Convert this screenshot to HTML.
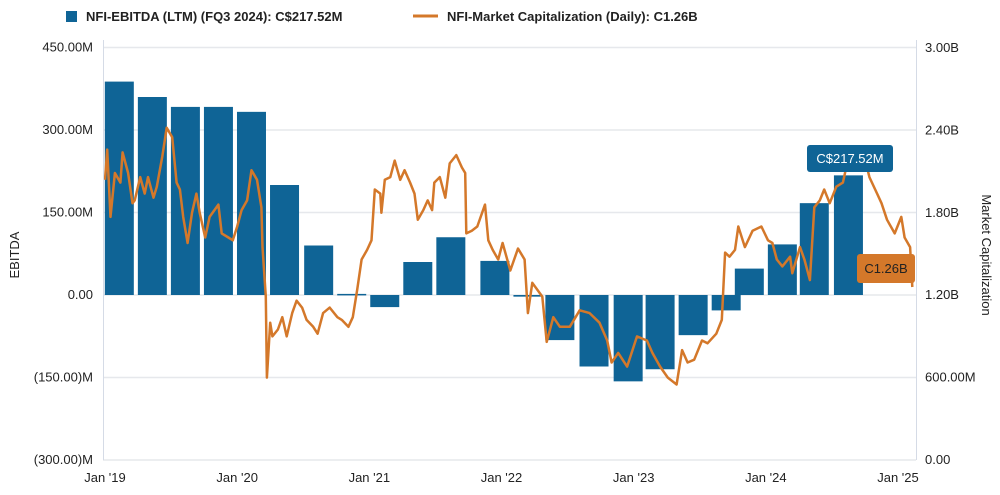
<!DOCTYPE html>
<html><head><meta charset="utf-8">
<style>
body{margin:0;background:#fff;font-family:"Liberation Sans",Arial,sans-serif;}
svg text{font-family:"Liberation Sans",Arial,sans-serif;}
</style></head>
<body>
<svg id="chart" width="1000" height="490" xmlns="http://www.w3.org/2000/svg">
<g>
<rect x="66" y="11" width="11" height="11" fill="#0f6496"/>
<text x="86" y="21" font-size="13" font-weight="bold" fill="#222">NFI-EBITDA (LTM) (FQ3 2024): C$217.52M</text>
<line x1="413" y1="16" x2="438" y2="16" stroke="#d4782a" stroke-width="3"/>
<text x="447" y="21" font-size="13" font-weight="bold" fill="#222">NFI-Market Capitalization (Daily): C1.26B</text>
</g>
<g id="grid"></g>
<g id="bars"></g>
<path id="line" fill="none" stroke="#d4782a" stroke-width="2.5" stroke-linejoin="round"/>
<line x1="103.5" y1="40" x2="103.5" y2="460" stroke="#d5dbe6"/>
<line x1="916.5" y1="40" x2="916.5" y2="460" stroke="#d5dbe6"/>
<g id="yl"></g>
<g id="yr"></g>
<g id="xl"></g>
<text transform="translate(19,255) rotate(-90)" text-anchor="middle" font-size="13" fill="#222">EBITDA</text>
<text transform="translate(982,255) rotate(90)" text-anchor="middle" font-size="13" fill="#222">Market Capitalization</text>
<g>
<rect x="807" y="145" width="86" height="27" rx="3" fill="#0f6496"/>
<text x="850" y="163" text-anchor="middle" font-size="13" fill="#fff">C$217.52M</text>
</g>
<g>
<rect x="857" y="254" width="58" height="29" rx="3" fill="#d4782a"/>
<text x="886" y="273" text-anchor="middle" font-size="13" fill="#222">C1.26B</text>
</g>
</svg>
<script>
const barMonths=[1.3,4.3,7.3,10.3,13.3,16.3,19.4,22.4,25.4,28.4,31.4,35.4,38.4,41.3,44.4,47.5,50.4,53.4,56.4,58.5,61.5,64.4,67.5];
const barValues=[388,360,342,342,333,200,90,2,-22,60,105,62,-3,-82,-130,-157,-135,-73,-28,48,92,167,217.52];
const lineMonths=[0.0,0.2,0.5,0.9,1.4,1.6,2.1,2.5,2.7,3.2,3.6,3.9,4.4,4.7,5.2,5.6,6.1,6.5,6.8,7.1,7.5,7.9,8.3,8.6,9.1,9.5,10.3,10.6,11.2,11.6,12.0,12.4,12.9,13.3,13.8,14.2,14.3,14.6,14.7,15.0,15.2,15.7,16.1,16.5,17.0,17.4,17.9,18.3,18.9,19.3,19.8,20.4,21.1,21.5,22.1,22.5,22.9,23.3,23.8,24.2,24.5,25.0,25.1,25.4,25.9,26.3,26.8,27.2,27.7,28.1,28.4,28.9,29.3,29.7,29.9,30.4,30.9,31.3,31.9,32.4,32.7,32.8,33.3,33.8,34.5,34.8,35.2,35.7,36.1,36.8,37.5,38.1,38.4,38.8,39.7,40.1,40.7,41.3,42.2,43.1,44.0,44.9,45.6,46.0,46.6,47.4,48.3,49.2,49.7,50.4,51.1,51.9,52.4,52.9,53.5,54.2,54.7,55.5,56.0,56.3,56.7,57.2,57.5,58.1,58.8,59.6,60.2,60.6,61.0,61.5,62.2,62.4,63.1,63.5,64.0,64.4,64.9,65.3,65.8,66.4,67.0,67.3,67.9,69.1,69.4,70.1,70.5,71.0,71.7,72.3,72.6,73.1,73.3];
const lineValues=[2.04,2.26,1.77,2.09,2.02,2.24,2.09,1.87,1.89,2.06,1.94,2.06,1.91,1.99,2.21,2.42,2.35,2.02,1.97,1.77,1.58,1.80,1.94,1.80,1.62,1.77,1.86,1.65,1.62,1.60,1.70,1.82,1.89,2.11,2.04,1.84,1.55,1.19,0.60,1.00,0.90,0.95,1.04,0.90,1.07,1.16,1.11,1.02,0.97,0.92,1.07,1.11,1.04,1.02,0.97,1.04,1.24,1.46,1.53,1.60,1.97,1.94,1.80,2.04,2.06,2.18,2.04,2.11,2.02,1.94,1.75,1.82,1.89,1.82,2.02,2.06,1.91,2.16,2.22,2.13,2.09,1.65,1.67,1.70,1.86,1.60,1.53,1.46,1.58,1.38,1.54,1.46,1.07,1.29,1.19,0.86,1.04,0.97,0.97,1.09,1.07,1.00,0.87,0.71,0.78,0.68,0.90,0.87,0.78,0.68,0.60,0.55,0.80,0.71,0.73,0.87,0.85,0.92,1.02,1.51,1.48,1.53,1.70,1.55,1.67,1.70,1.60,1.58,1.46,1.41,1.48,1.36,1.55,1.46,1.31,1.84,1.89,1.97,1.87,1.99,2.02,2.13,2.18,2.16,2.06,1.94,1.87,1.75,1.65,1.77,1.62,1.55,1.26];
const leftTicks=[450,300,150,0,-150,-300];
const leftTickLabels=["450.00M","300.00M","150.00M","0.00","(150.00)M","(300.00)M"];
const rightTicks=[3.0,2.4,1.8,1.2,0.6,0.0];
const rightTickLabels=["3.00B","2.40B","1.80B","1.20B","600.00M","0.00"];
const xTickMonths=[0,12,24,36,48,60,72];
const xTickLabels=["Jan '19","Jan '20","Jan '21","Jan '22","Jan '23","Jan '24","Jan '25"];

const NS="http://www.w3.org/2000/svg";
const xs=m=>105+m*(793/72);
const yl=v=>295-v*(82.5/150);
const yr=v=>460-v*(412/3);
function mk(tag,attrs,parent){const e=document.createElementNS(NS,tag);for(const k in attrs)e.setAttribute(k,attrs[k]);parent.appendChild(e);return e;}
const grid=document.getElementById('grid');
leftTicks.forEach((t,i)=>{
  const g=mk('line',{x1:103,x2:916,y1:yl(t),y2:yl(t),stroke:'#e6e8ec','stroke-width':1.5},grid);
  
  
  const tx=mk('text',{x:93,y:yl(t)+4,'text-anchor':'end','font-size':13,fill:'#222'},document.getElementById('yl'));
  tx.textContent=leftTickLabels[i];
  
  
});
rightTicks.forEach((t,i)=>{
  const tx=mk('text',{x:925,y:yr(t)+4,'font-size':13,fill:'#222'},document.getElementById('yr'));
  tx.textContent=rightTickLabels[i];
  
  
});
xTickMonths.forEach((m,i)=>{
  const tx=mk('text',{x:xs(m),y:482,'text-anchor':'middle','font-size':13,fill:'#222'},document.getElementById('xl'));
  tx.textContent=xTickLabels[i];
  
  
});
const bars=document.getElementById('bars');
barMonths.forEach((m,i)=>{
  const v=barValues[i];const y0=yl(0),y1=yl(v);
  const h=Math.max(Math.abs(y1-y0),1.5);
  const r=mk('rect',{x:xs(m)-14.5,y:Math.min(y0,y1),width:29,height:h,fill:'#0f6496'},bars);
  
  
});
document.getElementById('line').setAttribute('d',lineMonths.map((m,i)=>(i?'L':'M')+xs(m).toFixed(1)+' '+yr(lineValues[i]).toFixed(1)).join(' '));
</script>
</body></html>
